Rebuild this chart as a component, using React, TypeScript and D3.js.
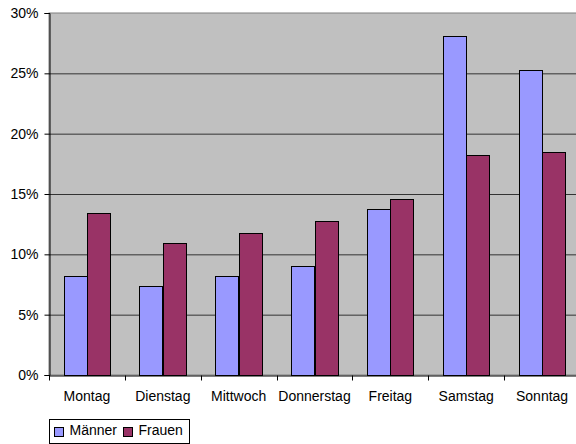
import React, { useEffect, useRef } from "react";
import { select, scaleLinear, scaleBand, axisLeft, axisBottom } from "d3";

const days = ["Montag", "Dienstag", "Mittwoch", "Donnerstag", "Freitag", "Samstag", "Sonntag"];
const maenner = [8.2, 7.4, 8.2, 9.05, 13.75, 28.1, 25.3];
const frauen = [13.4, 10.9, 11.75, 12.75, 14.55, 18.2, 18.5];
const yTicks = [0, 5, 10, 15, 20, 25, 30];
const seriesNames = ["Männer", "Frauen"];
const seriesColors = ["#9999FF", "#993366"];

const W = 576;
const H = 444;
const left = 49;
const right = 580;
const top = 13;
const bottom = 375;

const App = () => {
  const svgRef = useRef<SVGSVGElement>(null);

  useEffect(() => {
    const svg = select(svgRef.current);
    svg.selectAll("*").remove();

    const x = scaleBand().domain(days).range([left, right]);
    const y = scaleLinear().domain([0, 30]).range([bottom, top]);
    const inner = scaleBand()
      .domain(seriesNames)
      .range([0, x.bandwidth()])
      .paddingOuter(0.62)
      .paddingInner(0);

    svg
      .append("rect")
      .attr("x", left)
      .attr("y", top)
      .attr("width", right - left)
      .attr("height", bottom - top)
      .attr("fill", "#C0C0C0")
      .attr("stroke", "#808080");

    svg
      .append("g")
      .selectAll("line")
      .data(yTicks.slice(1, -1))
      .enter()
      .append("line")
      .attr("x1", left)
      .attr("x2", right)
      .attr("y1", (d) => y(d) + 0.5)
      .attr("y2", (d) => y(d) + 0.5)
      .attr("stroke", "#333");

    const data = [maenner, frauen];
    data.forEach((vals, si) => {
      svg
        .append("g")
        .selectAll("rect")
        .data(vals)
        .enter()
        .append("rect")
        .attr("x", (d, i) => Math.round((x(days[i]) as number) + (inner(seriesNames[si]) as number)) + 0.5)
        .attr("y", (d) => Math.round(y(d)) + 0.5)
        .attr("width", Math.round(inner.bandwidth()))
        .attr("height", (d) => Math.round(bottom - y(d)))
        .attr("fill", seriesColors[si])
        .attr("stroke", "#000");
    });

    const yAxis = svg
      .append("g")
      .attr("transform", `translate(${left + 0.5},0)`)
      .call(
        axisLeft(y)
          .tickValues(yTicks)
          .tickSize(5)
          .tickPadding(6)
          .tickFormat((d: any) => `${d}%`)
      );
    yAxis.selectAll("text").attr("font-size", 14).attr("fill", "#000");
    yAxis.selectAll("line,path").attr("stroke", "#000");

    const xAxis = svg
      .append("g")
      .attr("transform", `translate(0,${bottom + 0.5})`)
      .call(axisBottom(x).tickSize(0).tickPadding(16));
    xAxis.select(".domain").attr("stroke", "#000");
    xAxis.selectAll("text").attr("font-size", 14).attr("fill", "#000");
    xAxis
      .selectAll("line.sep")
      .data(days)
      .enter()
      .append("line")
      .attr("class", "sep")
      .attr("x1", (d) => Math.round(x(d) as number) + 0.5)
      .attr("x2", (d) => Math.round(x(d) as number) + 0.5)
      .attr("y1", 0)
      .attr("y2", 5)
      .attr("stroke", "#000");

    const legend = svg.append("g").attr("transform", "translate(49.5,419.5)");
    legend
      .append("rect")
      .attr("width", 140)
      .attr("height", 24)
      .attr("fill", "#fff")
      .attr("stroke", "#000");
    const offsets = [5, 74];
    seriesNames.forEach((name, i) => {
      legend
        .append("rect")
        .attr("x", offsets[i])
        .attr("y", 8)
        .attr("width", 9)
        .attr("height", 9)
        .attr("fill", seriesColors[i])
        .attr("stroke", "#000");
      legend
        .append("text")
        .attr("x", offsets[i] + 15)
        .attr("y", 14.5)
        .attr("dy", "0.1em")
        .attr("font-size", 14)
        .text(name);
    });
  }, []);

  return (
    <svg
      ref={svgRef}
      width={W}
      height={H}
      style={{ position: "absolute", left: 0, top: 0, background: "#fff" }}
      fontFamily="'Liberation Sans', Arial, sans-serif"
    ></svg>
  );
};

export default App;
